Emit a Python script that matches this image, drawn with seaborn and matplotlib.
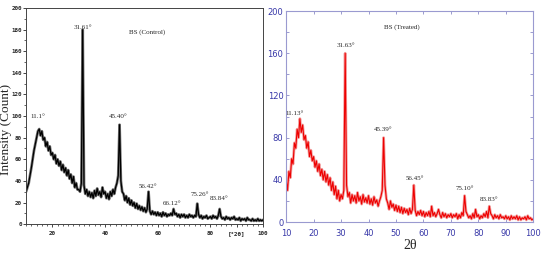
import numpy as np
import pandas as pd
import matplotlib
matplotlib.use("Agg")
import matplotlib.pyplot as plt
import seaborn as sns

# 2theta grid, 10 -> 100 in 0.5 deg steps
two_theta = np.arange(10, 100.5, 0.5)

# BS (Control) intensities
control = [
    30, 34, 38, 45, 52, 60, 68, 74, 80, 86,
    88, 82, 86, 78, 80, 72, 76, 68, 72, 64,
    66, 60, 64, 56, 60, 54, 58, 50, 55, 48,
    52, 45, 50, 42, 46, 38, 44, 34, 38, 32,
    32, 30, 38, 180, 36, 28, 32, 26, 30, 25,
    29, 24, 31, 26, 33, 27, 30, 25, 34, 28,
    30, 24, 28, 23, 30, 26, 32, 28, 34, 38,
    45, 92, 40, 30, 28, 22, 26, 20, 24, 18,
    22, 17, 20, 15, 19, 14, 17, 13, 16, 12,
    15, 11, 14, 30, 12, 9, 12, 9, 11, 8,
    11, 8, 10, 7, 11, 8, 10, 7, 9, 8,
    10, 8, 14, 9, 10, 7, 9, 6, 9, 7,
    9, 6, 8, 6, 9, 7, 8, 6, 8, 7,
    19, 9, 6, 8, 5, 7, 6, 8, 5, 6,
    7, 5, 8, 6, 7, 5, 8, 14, 7, 5,
    6, 4, 7, 5, 6, 4, 6, 5, 7, 4,
    5, 4, 6, 3, 5, 4, 5, 3, 6, 4,
    4, 3, 5, 3, 4, 3, 5, 3, 4, 3,
    4,
]

# BS (Treated) intensities
treated = [
    40, 30, 48, 42, 60, 55, 75, 70, 88, 80,
    98, 85, 92, 78, 82, 70, 76, 62, 68, 58,
    62, 52, 58, 48, 55, 44, 50, 40, 48, 38,
    45, 35, 42, 30, 38, 26, 34, 22, 30, 20,
    26, 22, 30, 160, 35, 24, 28, 18, 26, 20,
    25, 18, 28, 20, 24, 17, 26, 19, 23, 18,
    25, 17, 22, 16, 24, 18, 21, 15, 20, 24,
    30, 80, 35, 22, 18, 12, 20, 14, 17, 11,
    16, 10, 15, 9, 14, 8, 13, 9, 12, 7,
    13, 8, 12, 35, 11, 6, 10, 7, 11, 6,
    10, 5, 9, 6, 10, 5, 15, 6, 9, 5,
    8, 12, 7, 4, 9, 5, 8, 4, 7, 5,
    8, 4, 7, 5, 8, 3, 7, 4, 9, 6,
    25, 10, 7, 4, 6, 3, 8, 4, 12, 5,
    7, 3, 6, 4, 8, 5, 10, 4, 15, 8,
    6, 3, 7, 4, 6, 3, 7, 4, 5, 3,
    6, 3, 5, 2, 6, 3, 5, 3, 6, 2,
    5, 2, 4, 3, 5, 2, 6, 3, 4, 2,
    3,
]

# peak labels: (text, x, y)
control_labels = [("31.61°", 31.7, 181), ("11.1°", 14.6, 98), ("45.40°", 45.0, 98),
                  ("56.42°", 56.4, 33), ("66.12°", 65.5, 18), ("75.26°", 75.8, 26),
                  ("83.84°", 83.4, 22)]
treated_labels = [("31.63°", 31.6, 166), ("11.13°", 13.0, 101), ("45.39°", 45.3, 86),
                  ("56.45°", 57.0, 40), ("75.10°", 75.2, 30), ("83.83°", 84.0, 20)]

df = pd.DataFrame({"two_theta": two_theta, "control": control, "treated": treated})

sns.set_style("ticks")
plt.rcParams["font.family"] = ["DejaVu Sans"]

fig = plt.figure(figsize=(5.43, 2.60), dpi=100)
ax1 = fig.add_axes([0.048, 0.138, 0.4365, 0.831])
ax2 = fig.add_axes([0.527, 0.146, 0.455, 0.8115])

# ---- left: control ----
sns.lineplot(data=df, x="two_theta", y="control", ax=ax1, color="#777777",
             linewidth=2.0, estimator=None)
sns.lineplot(data=df, x="two_theta", y="control", ax=ax1, color="black",
             linewidth=0.9, estimator=None)
ax1.set_xlim(10, 100)
ax1.set_ylim(0, 200)
ax1.set_xticks([20, 40, 60, 80, 90, 100])
ax1.set_xticklabels(["20", "40", "60", "80", "[°2θ]", "100"])
ax1.set_xticks(np.arange(10, 101, 2), minor=True)
ax1.set_yticks(np.arange(0, 201, 20))
ax1.set_yticks(np.arange(0, 201, 10), minor=True)
for lab in ax1.get_xticklabels() + ax1.get_yticklabels():
    lab.set_family("DejaVu Sans Mono")
    lab.set_fontweight("bold")
    lab.set_fontsize(4.2)
ax1.tick_params(which="major", length=2, width=0.6, pad=1)
ax1.tick_params(axis="x", pad=3)
ax1.tick_params(which="minor", length=1.2, width=0.5)
for sp in ax1.spines.values():
    sp.set_linewidth(0.7)
    sp.set_color("#444444")
ax1.set_xlabel("")
ax1.set_ylabel("Intensity (Count)", family="Liberation Serif", fontsize=9.5)
ax1.yaxis.set_label_coords(-0.058, 0.44)
ax1.text(56, 176, "BS (Control)", family="Liberation Serif", fontsize=5, ha="center")
for t, x, y in control_labels:
    ax1.text(x, y, t, family="Liberation Serif", fontsize=5, ha="center")

# ---- right: treated ----
sns.lineplot(data=df, x="two_theta", y="treated", ax=ax2, color="#f2a0a0",
             linewidth=2.0, estimator=None)
sns.lineplot(data=df, x="two_theta", y="treated", ax=ax2, color="#ee0000",
             linewidth=0.8, estimator=None)
ax2.set_xlim(10, 100)
ax2.set_ylim(0, 200)
ax2.set_xticks(np.arange(10, 101, 10))
ax2.set_yticks(np.arange(0, 201, 40))
ax2.set_yticks(np.arange(0, 201, 20), minor=True)
ax2.tick_params(which="both", direction="in", top=True, right=True,
                colors="#8c8cc8", labelcolor="#3838a8", labelsize=6,
                length=2.5, width=0.6, pad=2)
ax2.tick_params(axis="x", pad=5)
for sp in ax2.spines.values():
    sp.set_linewidth(0.8)
    sp.set_color("#9a9ad0")
ax2.set_ylabel("")
ax2.set_xlabel("2θ", family="Liberation Serif", fontsize=10, labelpad=1)
ax2.text(52, 183, "BS (Treated)", family="Liberation Serif", fontsize=5, ha="center")
for t, x, y in treated_labels:
    ax2.text(x, y, t, family="Liberation Serif", fontsize=5, ha="center")

fig.savefig("out.png", dpi=100)
